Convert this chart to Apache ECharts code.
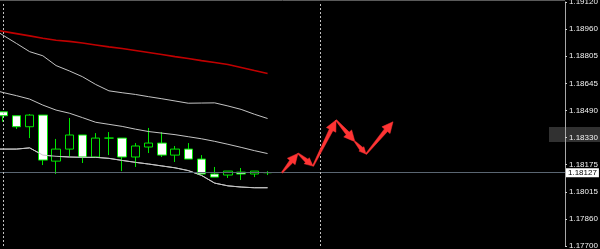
<!DOCTYPE html>
<html><head><meta charset="utf-8">
<script src="https://cdn.jsdelivr.net/npm/echarts@6/dist/echarts.min.js"></script>
<style>html,body{margin:0;padding:0;background:#000}#c{width:600px;height:249px}</style>
</head><body><div id="c"></div>
<script>
// slot 0 is the bar just off the left edge; slots 1..21 are the visible candles
const categories = Array.from({length: 44}, (_, i) => 'bar' + i);

// [open, close, low, high]
const candles = [
  [1.18481, 1.18458, 1.18423, 1.18481],
  [1.18458, 1.18394, 1.18381, 1.18458],
  [1.18394, 1.18462, 1.18328, 1.18468],
  [1.18462, 1.18200, 1.18171, 1.18462],
  [1.18194, 1.18264, 1.18119, 1.18323],
  [1.18264, 1.18346, 1.18218, 1.18445],
  [1.18346, 1.18218, 1.18183, 1.18346],
  [1.18218, 1.18328, 1.18218, 1.18357],
  [1.18328, 1.18328, 1.18229, 1.18363],
  [1.18328, 1.18218, 1.18136, 1.18328],
  [1.18218, 1.18282, 1.18160, 1.18299],
  [1.18276, 1.18299, 1.18241, 1.18387],
  [1.18299, 1.18229, 1.18218, 1.18363],
  [1.18229, 1.18264, 1.18189, 1.18282],
  [1.18264, 1.18206, 1.18206, 1.18299],
  [1.18206, 1.18119, 1.18119, 1.18229],
  [1.18119, 1.18101, 1.18101, 1.18160],
  [1.18113, 1.18136, 1.18096, 1.18136],
  [1.18130, 1.18119, 1.18084, 1.18154],
  [1.18119, 1.18136, 1.18101, 1.18136],
  [1.18127, 1.18127, 1.18113, 1.18136]
];

const maLine = [1.18963, 1.18949, 1.18936, 1.18923, 1.18909, 1.18897, 1.18891, 1.18881, 1.18870, 1.18859, 1.18849,
  1.18838, 1.18826, 1.18814, 1.18802, 1.18791, 1.18779, 1.18768, 1.18756, 1.18739, 1.18721, 1.18704];
const upperBand = [1.18974, 1.18926, 1.18879, 1.18831, 1.18807, 1.18750, 1.18719, 1.18685, 1.18640, 1.18603, 1.18592,
  1.18582, 1.18569, 1.18557, 1.18544, 1.18531, 1.18532, 1.18533, 1.18515, 1.18495, 1.18467, 1.18442];
const middleBand = [1.18614, 1.18593, 1.18575, 1.18555, 1.18520, 1.18491, 1.18473, 1.18447, 1.18420, 1.18408, 1.18396,
  1.18380, 1.18366, 1.18357, 1.18348, 1.18336, 1.18324, 1.18309, 1.18292, 1.18274, 1.18255, 1.18238];
const lowerBand = [1.18264, 1.18264, 1.18264, 1.18271, 1.18229, 1.18222, 1.18218, 1.18216, 1.18216, 1.18210, 1.18198,
  1.18187, 1.18177, 1.18166, 1.18155, 1.18139, 1.18111, 1.18066, 1.18050, 1.18043, 1.18039, 1.18039];

const currentPrice = 1.18127;
const priceMin = 1.17700, priceMax = 1.19120;
const tickLabels = ['1.17700', '1.17860', '1.18015', '1.18175', '1.18330', '1.18490', '1.18645', '1.18805', '1.18960', '1.19120'];
const separatorSlots = [1, 25];

// forecast arrows: [slotFrom, priceFrom, slotTo, priceTo]
const forecastArrows = [
  [22.09, 1.18127, 23.30, 1.18239],
  [23.30, 1.18239, 24.44, 1.18165],
  [24.44, 1.18165, 26.18, 1.18433],
  [26.18, 1.18433, 27.61, 1.18307],
  [27.61, 1.18307, 28.45, 1.18235],
  [28.45, 1.18235, 30.49, 1.18423]
];

const chart = echarts.init(document.getElementById('c'), null, {renderer: 'canvas'});

function arrowItem(params, api) {
  const p0 = api.coord([api.value(0), api.value(1)]);
  const p1 = api.coord([api.value(2), api.value(3)]);
  const dx = p1[0] - p0[0], dy = p1[1] - p0[1];
  const L = Math.sqrt(dx * dx + dy * dy);
  const ux = dx / L, uy = dy / L, nx = -uy, ny = ux;
  const headLen = Math.min(11, L * 0.42), headW = headLen * 0.48;
  const bx = p1[0] - ux * headLen, by = p1[1] - uy * headLen;
  const t = 0.6, s = 2;
  const pts = [
    [p0[0] + nx * t, p0[1] + ny * t],
    [bx + nx * s, by + ny * s],
    [bx + nx * headW, by + ny * headW],
    [p1[0], p1[1]],
    [bx - nx * headW, by - ny * headW],
    [bx - nx * s, by - ny * s],
    [p0[0] - nx * t, p0[1] - ny * t]
  ];
  return {type: 'polygon', shape: {points: pts}, style: {fill: '#ff3434', stroke: '#ff3434', lineWidth: 0.5}};
}

const bandStyle = {color: '#c4c4c4', width: 1};

chart.setOption({
  backgroundColor: '#000000',
  animation: false,
  grid: {left: -16.63, right: 35, top: 2, bottom: 3, containLabel: false, outerBoundsMode: 'none'},
  xAxis: [
    {type: 'category', data: categories, boundaryGap: true, show: false},
    {type: 'value', min: -0.5, max: 43.5, show: false}
  ],
  yAxis: [
    {type: 'value', min: priceMin, max: priceMax, show: false},
    {type: 'value', position: 'right', min: 0, max: 9, interval: 1, z: 10,
      axisLine: {show: true, lineStyle: {color: '#a8a8a8', width: 1}},
      axisTick: {show: true, length: 2, lineStyle: {color: '#d0d0d0'}},
      axisLabel: {color: '#f2f2f2', fontSize: 8, fontFamily: 'Liberation Sans', margin: 4,
        showMinLabel: true, showMaxLabel: true, hideOverlap: false,
        formatter: v => tickLabels[v]},
      splitLine: {show: false}}
  ],
  graphic: [
    {type: 'rect', z: 1, shape: {x: 549, y: 127, width: 51, height: 15}, style: {fill: '#313131'}},
    {type: 'line', z: 1, shape: {x1: 0, y1: 0.5, x2: 565, y2: 0.5}, style: {stroke: '#5a5a5a', lineWidth: 1}}
  ],
  series: [
    {
      type: 'line', data: lowerBand, symbol: 'none', lineStyle: bandStyle, silent: true, z: 1,
      markLine: {
        symbol: 'none', silent: true, animation: false, precision: 5,
        data: [
          {yAxis: currentPrice, lineStyle: {color: '#5a6672', type: 'solid', width: 1},
            label: {show: true, position: 'end', distance: 1, formatter: currentPrice.toFixed(5),
              backgroundColor: '#ffffff', color: '#000000', padding: [1, 2, 0, 2], fontSize: 8,
              fontFamily: 'Liberation Sans'}}
        ].concat(separatorSlots.map(s => ({xAxis: categories[s],
          lineStyle: {color: '#c0c0c0', type: [2, 2], width: 1}, label: {show: false}})))
      }
    },
    {
      type: 'candlestick', xAxisIndex: 0, yAxisIndex: 0, z: 2,
      data: [['-', '-', '-', '-']].concat(candles),
      barWidth: 9,
      itemStyle: {color: '#000000', color0: '#ffffff', borderColor: '#00e600', borderColor0: '#00e600',
        borderColorDoji: '#00e600', borderWidth: 1}
    },
    {type: 'line', data: upperBand, symbol: 'none', lineStyle: bandStyle, silent: true, z: 3},
    {type: 'line', data: middleBand, symbol: 'none', lineStyle: bandStyle, silent: true, z: 3},
    {type: 'line', data: lowerBand, symbol: 'none', lineStyle: bandStyle, silent: true, z: 3},
    {type: 'line', data: maLine, symbol: 'none', lineStyle: {color: '#c00000', width: 1.6}, silent: true, z: 3},
    {
      type: 'custom', xAxisIndex: 1, yAxisIndex: 0, z: 5,
      dimensions: ['x1', 'y1', 'x2', 'y2'], encode: {x: [0, 2], y: [1, 3]},
      data: forecastArrows, renderItem: arrowItem, silent: true
    }
  ]
});
</script></body></html>
